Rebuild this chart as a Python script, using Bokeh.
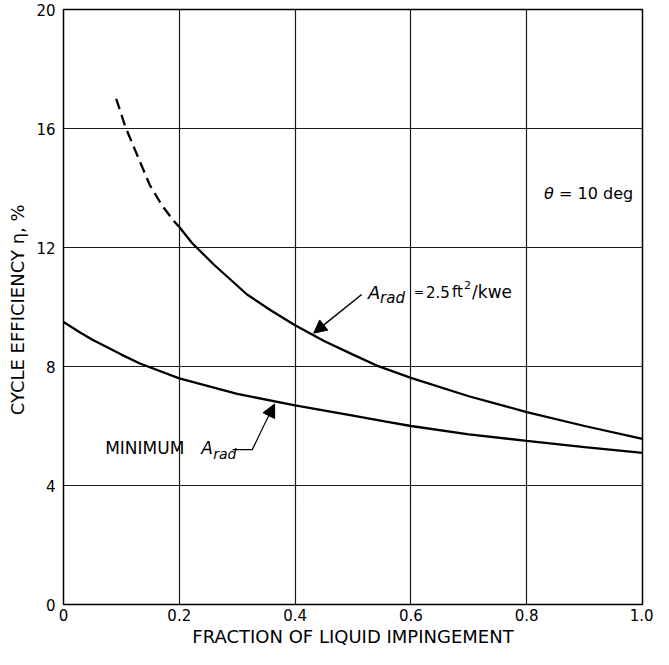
from bokeh.plotting import figure
from bokeh.models import Range1d, FixedTicker, Arrow, NormalHead
from bokeh.core.properties import value
from bokeh.embed import file_html
from bokeh.resources import INLINE

# ---- data ----
x_ticks = [0.0, 0.2, 0.4, 0.6, 0.8, 1.0]
x_tick_labels = ["0", "0.2", "0.4", "0.6", "0.8", "1.0"]
y_ticks = [0, 4, 8, 12, 16, 20]
y_tick_labels = ["0", "4", "8", "12", "16", "20"]

upper_dash_x = [0.091, 0.107, 0.13, 0.149, 0.17, 0.19, 0.2]
upper_dash_y = [17.0, 16.05, 14.98, 14.1, 13.42, 12.9, 12.69]

upper_x = [0.2, 0.222, 0.26, 0.317, 0.357, 0.4, 0.45, 0.5, 0.54, 0.6, 0.7, 0.8, 0.9, 1.0]
upper_y = [12.69, 12.15, 11.42, 10.42, 9.9, 9.39, 8.86, 8.4, 8.04, 7.62, 7.0, 6.47, 6.0, 5.57]

lower_x = [0.0, 0.028, 0.05, 0.1, 0.132, 0.2, 0.3, 0.4, 0.5, 0.557, 0.6, 0.7, 0.8, 0.9, 1.0]
lower_y = [9.5, 9.15, 8.9, 8.4, 8.1, 7.6, 7.08, 6.69, 6.35, 6.15, 6.0, 5.72, 5.5, 5.29, 5.1]

FONT = "DejaVu Sans"

p = figure(width=653, height=649, output_backend="svg", toolbar_location=None,
           x_range=Range1d(0, 1.0), y_range=Range1d(0, 20),
           min_border_left=63, min_border_right=11, min_border_top=9, min_border_bottom=0,
           background_fill_color="white", border_fill_color="white")

p.outline_line_color = "black"
p.outline_line_width = 1.5

p.xaxis.ticker = FixedTicker(ticks=x_ticks)
p.yaxis.ticker = FixedTicker(ticks=y_ticks)
p.xaxis.major_label_overrides = {t: l for t, l in zip(x_ticks, x_tick_labels)}
p.yaxis.major_label_overrides = {t: l for t, l in zip(y_ticks, y_tick_labels)}
for ax in (p.xaxis, p.yaxis):
    ax.axis_line_color = None
    ax.major_tick_line_color = None
    ax.minor_tick_line_color = None
    ax.major_tick_out = 0
    ax.major_tick_in = 0
    ax.major_label_text_font = FONT
    ax.major_label_text_font_size = "15px"
    ax.major_label_text_color = "black"
    ax.axis_label_text_font = FONT
    ax.axis_label_text_font_size = "18px"
    ax.axis_label_text_font_style = "normal"
    ax.axis_label_text_color = "black"
p.xaxis.major_label_standoff = 4
p.yaxis.major_label_standoff = 8
p.xaxis.axis_label = "FRACTION OF LIQUID IMPINGEMENT"
p.yaxis.axis_label = "CYCLE EFFICIENCY \u03b7,  %"
p.xaxis.axis_label_standoff = 2
p.yaxis.axis_label_standoff = 5

p.xgrid.ticker = FixedTicker(ticks=x_ticks)
p.ygrid.ticker = FixedTicker(ticks=y_ticks)
for g in (p.xgrid, p.ygrid):
    g.grid_line_color = "#1a1a1a"
    g.grid_line_width = 1.2

# curves
p.line(upper_dash_x, upper_dash_y, line_color="black", line_width=2.3, line_dash="11 6")
p.line(upper_x, upper_y, line_color="black", line_width=2.3)
p.line(lower_x, lower_y, line_color="black", line_width=2.3)

# annotations
def txt(x, y, s, size, style="normal", dx=0, dy=0):
    p.text(x=[x], y=[y], text=[s], text_font=value(FONT), text_font_size=size,
           text_font_style=style, text_baseline="middle", text_align="left",
           text_color="black", x_offset=dx, y_offset=dy)

# theta label
txt(0.83, 13.8, "\u03b8", "16px", "italic")
txt(0.83, 13.8, "= 10 deg", "16px", dx=15)

# upper curve label (anchor at the A, pieces offset in screen pixels)
ux, uy = 0.526, 10.5
txt(ux, uy, "A", "18px", "italic")
txt(ux, uy, "rad", "15px", "italic", dx=12, dy=6)
txt(ux, uy, "=", "12px", dx=46)
txt(ux, uy, "2.5", "15px", dx=58)
txt(ux, uy, "ft", "15px", dx=84)
txt(ux, uy, "2", "11px", dx=96, dy=-7)
txt(ux, uy, "/kwe", "17px", dx=104)

p.add_layout(Arrow(end=NormalHead(size=13, fill_color="black", line_color="black"),
                   x_start=0.515, y_start=10.42, x_end=0.432, y_end=9.12,
                   line_color="black", line_width=1.5))

# lower curve label
lx, ly = 0.072, 5.27
txt(lx, ly, "MINIMUM", "17px")
txt(lx, ly, "A", "17px", "italic", dx=96)
txt(lx, ly, "rad", "14px", "italic", dx=108, dy=6)
p.line([0.292, 0.326, 0.3465], [5.206, 5.206, 6.03], line_color="black", line_width=1.2)
p.add_layout(Arrow(end=NormalHead(size=13, fill_color="black", line_color="black"),
                   x_start=0.3465, y_start=6.03, x_end=0.3646, y_end=6.74,
                   line_color="black", line_width=1.2))

open("out.html", "w").write(file_html(p, INLINE))
